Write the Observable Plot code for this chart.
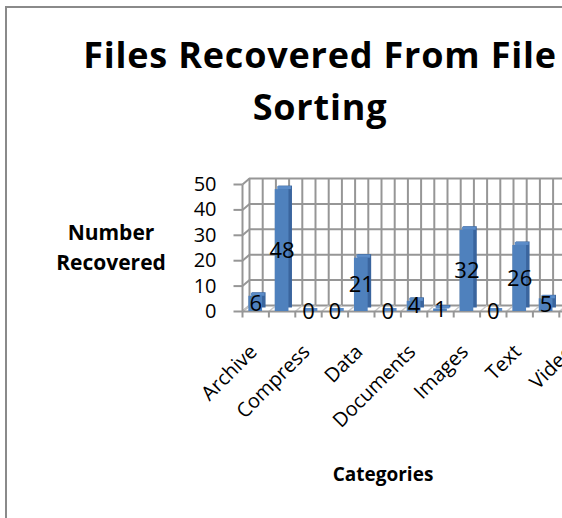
<!DOCTYPE html>
<html>
<head>
<meta charset="utf-8">
<script src="https://cdn.jsdelivr.net/npm/d3@7"></script>
<script src="https://cdn.jsdelivr.net/npm/@observablehq/plot@0.6"></script>
<style>
  html, body { margin: 0; padding: 0; width: 562px; height: 518px; overflow: hidden; background: #fff; }
  body { position: relative; font-family: "Open Sans", Lato, sans-serif; color: #000; }
  #frame { position: absolute; left: 5px; top: 6px; width: 800px; height: 800px; border: 2px solid #8a8a8a; box-sizing: border-box; }
  #title { position: absolute; left: 0; width: 640px; top: 29px; text-align: center; font-weight: bold; font-size: 36px; line-height: 52px; letter-spacing: 0.8px; }
  #ylabel { position: absolute; left: 41px; width: 140px; top: 217px; text-align: center; font-weight: bold; font-size: 21px; line-height: 30px; }
  #xlabel { position: absolute; left: 283px; width: 200px; top: 461px; text-align: center; font-weight: bold; font-size: 19px; }
  #chart { position: absolute; left: 0; top: 0; width: 640px; height: 518px; }
  #chart svg { max-width: none !important; width: 640px !important; height: 518px !important; }
</style>
</head>
<body>
<div id="frame"></div>
<div id="title">Files Recovered From File<br>Sorting</div>
<div id="ylabel">Number<br>Recovered</div>
<div id="xlabel">Categories</div>
<div id="chart"></div>
<script>
// Categories (every other label is shown in the original; the last one is cut off)
const categories = ["Archive", "Audio", "Compress", "Crypto", "Data", "Disk", "Documents",
                    "Exec", "Images", "System", "Text", "Unknown", "Video"];
// Values (the Video bar lies outside the visible area)
const values = [6, 48, 0, 0, 21, 0, 4, 1, 32, 0, 26, 5];
const yTicks = [0, 10, 20, 30, 40, 50];
const shownLabels = ["Archive", "Compress", "Data", "Documents", "Images", "Text", "Video"];

const data = values.map((v, i) => ({pos: i + 1, category: categories[i], value: v}));
const labelData = shownLabels.map(c => ({pos: categories.indexOf(c) + 1, category: c}));
const gridX = d3.range(0.5, categories.length + 0.51, 0.5);
const bounds = d3.range(0.5, categories.length + 0.51, 1);

// layout
const W = 640, H = 518;
const mL = 242, band = 26.4, mT = 184, mB = 207;
const mR = W - mL - band * categories.length;
const pxY = (H - mT - mB) / 50;
const depthX = 7, depthY = 6;          // 3D wall offset in px
const dxU = depthX / band, dyU = depthY / pxY;
const gridColor = "#969696";

const chart = Plot.plot({
  width: W, height: H,
  marginLeft: mL, marginRight: mR, marginTop: mT, marginBottom: mB,
  x: {domain: [0.5, categories.length + 0.5], axis: null},
  y: {domain: [0, 50], axis: null},
  style: {fontFamily: "'Open Sans', Lato, sans-serif", color: "#000", background: "transparent", overflow: "visible"},
  marks: [
    Plot.ruleX(gridX, {x: d => d, y1: 0, y2: 50, dx: depthX, dy: -depthY, stroke: gridColor, strokeWidth: 2}),
    Plot.ruleY(yTicks, {y: d => d, x1: 0.5, x2: categories.length + 0.5, dx: depthX, dy: -depthY, stroke: gridColor, strokeWidth: 2}),
    Plot.link(yTicks, {x1: 0.5, x2: 0.5 + dxU, y1: d => d, y2: d => d + dyU, stroke: gridColor, strokeWidth: 2}),
    Plot.link(gridX, {x1: d => d, x2: d => d + dxU, y1: 0, y2: dyU, stroke: "#c8c8c8", strokeWidth: 1.5}),
    Plot.link([0], {x1: 0.5, x2: 0.5, y1: 0, y2: 50, stroke: gridColor, strokeWidth: 2}),
    Plot.link([0], {x1: 0.5, x2: categories.length + 0.5, y1: 0, y2: 0, stroke: gridColor, strokeWidth: 2}),
    Plot.link(yTicks, {x1: 0.5, x2: 0.5 - 9 / band, y1: d => d, y2: d => d, stroke: gridColor, strokeWidth: 2}),
    Plot.link(bounds, {x1: d => d, x2: d => d, y1: 0, y2: -6 / pxY, stroke: gridColor, strokeWidth: 2}),
    Plot.rectY(data, {x1: d => d.pos - 0.26, x2: d => d.pos + 0.26, y1: 0, y2: "value", dx: 3.5, dy: -3.5, fill: "#3a659e"}),
    Plot.rectY(data, {x1: d => d.pos - 0.26, x2: d => d.pos + 0.26, y1: 0, y2: "value", fill: "#4f81bd"}),
    Plot.link(data, {x1: d => d.pos - 0.26, x2: d => d.pos + 0.26, y1: "value", y2: "value", dx: 2, dy: -2, stroke: "#5b8cc8", strokeWidth: 3}),
    Plot.text(data, {x: "pos", y: d => d.value / 2, text: d => String(d.value), fontSize: 22, fill: "#000"}),
    Plot.text(yTicks, {x: 0.5, y: d => d, text: d => String(d), textAnchor: "end", dx: -26, fontSize: 20, fill: "#000"}),
    Plot.text(labelData, {x: "pos", y: 0, text: "category", rotate: -45, textAnchor: "end", dx: -2, dy: 37, fontSize: 20, fill: "#000"})
  ]
});
document.getElementById("chart").appendChild(chart);
</script>
</body>
</html>
